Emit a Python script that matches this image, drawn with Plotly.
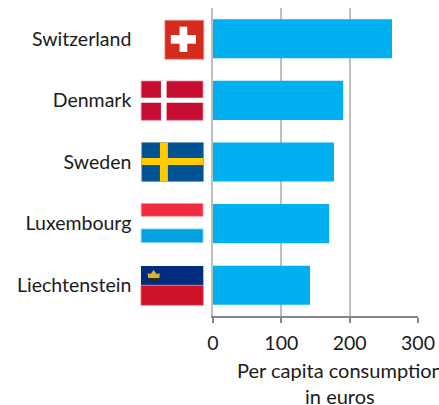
import plotly.graph_objects as go

countries = ["Switzerland", "Denmark", "Sweden", "Luxembourg", "Liechtenstein"]
consumption = [262, 190.5, 177, 170, 142]
x_ticks = [0, 100, 200, 300]

W, H = 439, 405
L, R, T, B = 212.5, 21, 8, 89
FONT = "Lato, Carlito, Calibri, sans-serif"
FS = 19.5
TEXT = "#1A1A1A"
GRID = "#BFBFBF"


def px(x):
    return (x - L) / (W - L - R)


def py(y):
    return 1 - (y - T) / (H - T - B)


def rect(x0, y0, x1, y1, color, edge=None):
    return dict(type="rect", xref="paper", yref="paper",
                x0=px(x0), x1=px(x1), y0=py(y1), y1=py(y0),
                fillcolor=color, layer="above",
                line=dict(width=0.8 if edge else 0, color=edge or color))


def path(points, color):
    d = "M " + " L ".join(f"{px(a):.5f},{py(b):.5f}" for a, b in points) + " Z"
    return dict(type="path", xref="paper", yref="paper", path=d,
                fillcolor=color, line=dict(width=0), layer="above")


shapes = [
    # Switzerland
    rect(164.3, 20.3, 203.2, 59.2, "#D52B1E", "#E8877F"),
    rect(170.2, 35, 195.3, 43.7, "#FFFFFF"),
    rect(179, 26.7, 186.7, 52, "#FFFFFF"),
    # Denmark
    rect(140.5, 81, 202.5, 120.3, "#C60C30", "#E48CA0"),
    rect(160.3, 80.5, 166, 120.8, "#FFFFFF"),
    rect(140, 97.7, 203, 102.7, "#FFFFFF"),
    # Sweden
    rect(141, 142.5, 203, 181.5, "#005293", "#6E9BC0"),
    rect(159.3, 142.5, 167.3, 181.5, "#FECB00"),
    rect(141, 158, 203, 165, "#FECB00"),
    # Luxembourg
    rect(140.5, 203.5, 202.5, 216.3, "#EF2B3D", "#F6949E"),
    rect(140.5, 229, 202.5, 242.5, "#00A2E1", "#7CCDEE"),
    # Liechtenstein
    rect(140.3, 266, 202.8, 285.3, "#002B7F"),
    rect(140.3, 285.3, 202.8, 305.3, "#CE1126", "#E4808E"),
    # crown
    path([(147.5, 278), (147, 273), (150, 274), (153, 270), (156, 274),
          (159, 273), (158.8, 278)], "#D9B52B"),
    rect(148, 278, 158.5, 280.7, "#2A2A1E"),
]

fig = go.Figure(go.Bar(
    x=consumption, y=countries, orientation="h",
    marker=dict(color="#00B0F0", line=dict(width=0)),
    width=0.635,
))

fig.update_layout(
    width=W, height=H, autosize=False,
    margin=dict(l=L, r=R, t=T, b=B, pad=0, autoexpand=False),
    paper_bgcolor="white", plot_bgcolor="white",
    showlegend=False, shapes=shapes,
    font=dict(family=FONT, size=FS, color=TEXT),
    xaxis=dict(range=[0, 300], tickvals=x_ticks, showgrid=True, automargin=False,
               gridcolor=GRID, gridwidth=1.5, zeroline=False,
               showline=True, linecolor="#868686", linewidth=1.5,
               ticks="outside", ticklen=5, tickwidth=1.5, tickcolor="#868686",
               ticklabelstandoff=4,
               tickfont=dict(family=FONT, size=FS, color=TEXT)),
    yaxis=dict(categoryorder="array", categoryarray=countries[::-1],
               showgrid=False, zeroline=False, showline=True, automargin=False,
               linecolor=GRID, linewidth=1.5, ticks="",
               ticklabelstandoff=76,
               tickfont=dict(family=FONT, size=FS, color=TEXT)),
    annotations=[dict(text="Per capita consumption<br>in euros",
                      xref="paper", yref="paper",
                      x=px(340), y=py(383), xanchor="center", yanchor="middle",
                      showarrow=False, align="center",
                      font=dict(family=FONT, size=20, color=TEXT))],
)

fig.write_html("out.html", config=dict(displayModeBar=False),
               post_script="document.body.style.margin='0';document.body.style.overflow='hidden';")
